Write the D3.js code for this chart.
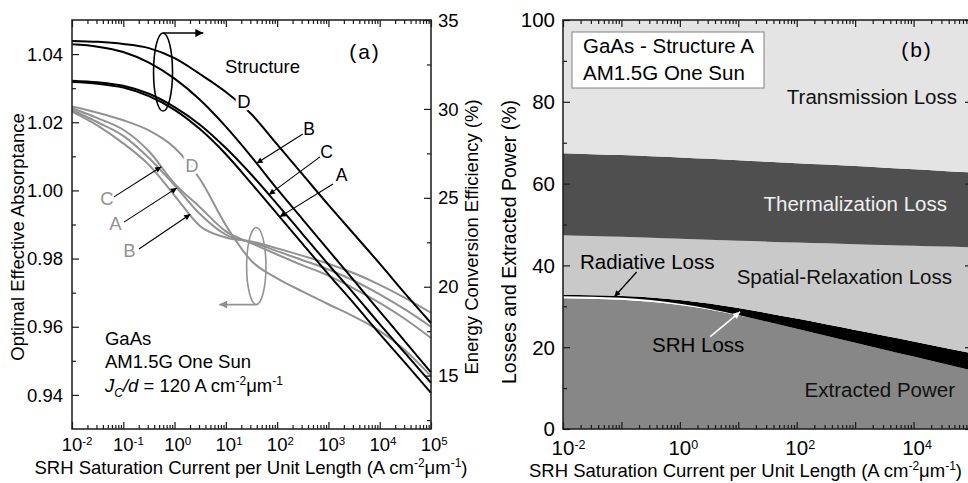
<!DOCTYPE html>
<html>
<head>
<meta charset="utf-8">
<script src="https://cdn.jsdelivr.net/npm/d3@7"></script>
<style>
  body { margin: 0; background: #fff; }
  svg { display: block; font-family: "Liberation Sans", Arial, Helvetica, sans-serif; }
</style>
</head>
<body>
<svg id="chart" width="968" height="483"></svg>
<script>
// ---- data -----------------------------------------------------------------
// SRH saturation current per unit length, log10 of A cm^-2 um^-1
const logJ = [-2, -1.5, -1, -0.5, 0, 0.5, 1, 1.5, 2, 2.5, 3, 3.5, 4, 4.5, 5];

// Panel (a), left axis: optimal effective absorptance per structure
const absA = [1.0236, 1.0200, 1.0160, 1.0095, 1.0015, 0.9930, 0.9870, 0.9848, 0.9822, 0.9795, 0.9768, 0.9735, 0.9695, 0.9650, 0.9600];
const absB = [1.0231, 1.0190, 1.0138, 1.0075, 0.9985, 0.9895, 0.9862, 0.9850, 0.9830, 0.9808, 0.9785, 0.9757, 0.9723, 0.9684, 0.9641];
const absC = [1.0241, 1.0212, 1.0178, 1.0115, 1.0020, 0.9950, 0.9880, 0.9845, 0.9812, 0.9780, 0.9750, 0.9712, 0.9670, 0.9622, 0.9567];
const absD = [1.0246, 1.0228, 1.0206, 1.0176, 1.0125, 1.0032, 0.9898, 0.9793, 0.9742, 0.9703, 0.9666, 0.9630, 0.9588, 0.9530, 0.9455];

// Panel (a), right axis: energy conversion efficiency (%) per structure
const effA = [31.51, 31.42, 31.20, 30.72, 29.95, 28.85, 27.45, 25.80, 24.10, 22.40, 20.70, 19.05, 17.35, 15.70, 14.03];
const effB = [33.63, 33.50, 33.20, 32.60, 31.70, 30.50, 29.00, 27.30, 25.50, 23.78, 22.06, 20.34, 18.62, 16.90, 15.18];
const effC = [31.59, 31.50, 31.30, 30.85, 30.10, 29.10, 27.80, 26.30, 24.65, 22.95, 21.25, 19.60, 17.90, 16.25, 14.60];
const effD = [33.82, 33.77, 33.65, 33.42, 32.85, 31.95, 30.95, 29.70, 28.00, 26.30, 24.60, 22.95, 21.30, 19.60, 17.96];

// Panel (b): power budget of structure A (% of incident power), bottom to top
const extracted    = [31.95, 31.85, 31.60, 31.10, 30.30, 29.20, 27.80, 26.20, 24.50, 22.80, 21.10, 19.40, 17.70, 16.00, 14.30];
const radiative    = [0.50, 0.50, 0.48, 0.42, 0.30, 0.18, 0.08, 0.03, 0.01, 0, 0, 0, 0, 0, 0];
const srhLoss      = [0.30, 0.35, 0.45, 0.65, 0.95, 1.30, 1.70, 2.10, 2.50, 2.80, 3.10, 3.40, 3.70, 3.95, 4.20];
const spatial      = [14.65, 14.50, 14.47, 14.58, 14.95, 15.57, 16.42, 17.47, 18.59, 19.80, 21.00, 22.20, 23.40, 24.65, 25.90];
const thermal      = [20.00, 20.00, 20.00, 19.95, 19.90, 19.80, 19.70, 19.55, 19.40, 19.25, 19.10, 18.90, 18.70, 18.50, 18.30];
const transmission = [32.60, 32.80, 33.00, 33.30, 33.60, 33.95, 34.30, 34.65, 35.00, 35.35, 35.70, 36.10, 36.50, 36.90, 37.30];

// Axis ticks
const decadeExps = [-2, -1, 0, 1, 2, 3, 4, 5];
const absTicks = [0.94, 0.96, 0.98, 1.00, 1.02, 1.04];
const absMinor = [0.95, 0.97, 0.99, 1.01, 1.03];
const effTicks = [15, 20, 25, 30, 35];
const effMinor = [12.5, 17.5, 22.5, 27.5, 32.5];
const pctTicks = [0, 20, 40, 60, 80, 100];
const pctMinor = [10, 30, 50, 70, 90];
const bLabelExps = [-2, 0, 2, 4];

// ---- helpers --------------------------------------------------------------
const svg = d3.select("#chart");
const J = e => Math.pow(10, e);
const majorVals = decadeExps.map(J);
const minorVals = [];
decadeExps.slice(0, -1).forEach(e => { for (let m = 2; m <= 9; m++) minorVals.push(m * J(e)); });

function valueAt(series, L) {
  for (let i = 0; i < logJ.length - 1; i++) {
    if (L >= logJ[i] && L <= logJ[i + 1]) {
      const t = (L - logJ[i]) / (logJ[i + 1] - logJ[i]);
      return series[i] + t * (series[i + 1] - series[i]);
    }
  }
  return series[series.length - 1];
}

function tickSet(g, gen, transform, values, size) {
  g.append("g")
    .attr("transform", transform)
    .attr("color", "#1a1a1a")
    .call(gen.tickValues(values).tickSize(size).tickSizeOuter(0).tickFormat(""))
    .call(s => s.select(".domain").remove())
    .selectAll("line").attr("stroke-width", 1.2);
}

// "10" centred on the tick, exponent raised to its right, in one text element
function decadeLabel(g, px, baseline, exp, fs, sfs, dy) {
  const t = g.append("text").attr("x", px - fs * 0.556).attr("y", baseline).attr("font-size", fs);
  t.append("tspan").text("10");
  t.append("tspan").attr("dy", dy).attr("font-size", sfs).text(exp);
}

const defs = svg.append("defs");
function marker(id, color, w, h) {
  defs.append("marker").attr("id", id)
    .attr("viewBox", "0 0 10 10").attr("refX", 10).attr("refY", 5)
    .attr("markerWidth", w).attr("markerHeight", h)
    .attr("markerUnits", "userSpaceOnUse").attr("orient", "auto")
    .append("path").attr("d", "M0,0 L10,5 L0,10 Z").attr("fill", color);
}
marker("headBlack", "#000", 9, 6);
marker("headBig", "#000", 11, 8);
marker("headGray", "#8f8f8f", 11, 8);
marker("headWhite", "#fff", 10, 7);

// ---- panel (a) ------------------------------------------------------------
const xa = d3.scaleLog().domain([1e-2, 1e5]).range([72, 431]);
const yAbs = d3.scaleLinear().domain([0.93, 1.05]).range([429, 20]);
const yEff = d3.scaleLinear().domain([12, 35]).range([429, 20]);
const ga = svg.append("g");

const grayCol = "#929292";
const absLine = d3.line().x((d, i) => xa(J(logJ[i]))).y(d => yAbs(d)).curve(d3.curveMonotoneX);
const effLine = d3.line().x((d, i) => xa(J(logJ[i]))).y(d => yEff(d)).curve(d3.curveMonotoneX);

[absA, absB, absC, absD].forEach(s =>
  ga.append("path").attr("d", absLine(s)).attr("fill", "none")
    .attr("stroke", grayCol).attr("stroke-width", 2));
[effA, effB, effC, effD].forEach(s =>
  ga.append("path").attr("d", effLine(s)).attr("fill", "none")
    .attr("stroke", "#000").attr("stroke-width", 2));

// group markers: ellipses with arrows to the relevant axis
ga.append("ellipse")
  .attr("cx", (xa(J(-0.41)) + xa(J(-0.04))) / 2).attr("cy", (yEff(34.27) + yEff(29.88)) / 2)
  .attr("rx", (xa(J(-0.04)) - xa(J(-0.41))) / 2).attr("ry", (yEff(29.88) - yEff(34.27)) / 2)
  .attr("fill", "none").attr("stroke", "#000").attr("stroke-width", 1.6);
ga.append("line")
  .attr("x1", xa(J(-0.225))).attr("y1", yEff(34.27)).attr("x2", xa(J(0.56))).attr("y2", yEff(34.27))
  .attr("stroke", "#000").attr("stroke-width", 1.6).attr("marker-end", "url(#headBig)");

ga.append("ellipse")
  .attr("cx", (xa(J(1.405)) + xa(J(1.782))) / 2).attr("cy", (yAbs(0.9891) + yAbs(0.9665)) / 2)
  .attr("rx", (xa(J(1.782)) - xa(J(1.405))) / 2).attr("ry", (yAbs(0.9665) - yAbs(0.9891)) / 2)
  .attr("fill", "none").attr("stroke", grayCol).attr("stroke-width", 1.6);
ga.append("line")
  .attr("x1", xa(J(1.594))).attr("y1", yAbs(0.9665)).attr("x2", xa(J(0.87))).attr("y2", yAbs(0.9665))
  .attr("stroke", grayCol).attr("stroke-width", 1.6).attr("marker-end", "url(#headGray)");

// structure labels with pointer arrows
const effArrows = [
  { name: "B", series: effB, tip: 1.60, tail: [2.50, 28.59], lab: [2.621, 28.53] },
  { name: "C", series: effC, tip: 1.84, tail: [2.836, 27.30], lab: [2.962, 27.24] },
  { name: "A", series: effA, tip: 2.05, tail: [3.089, 25.78], lab: [3.255, 25.95] }
];
effArrows.forEach(a => {
  ga.append("line")
    .attr("x1", xa(J(a.tail[0]))).attr("y1", yEff(a.tail[1]))
    .attr("x2", xa(J(a.tip))).attr("y2", yEff(valueAt(a.series, a.tip)))
    .attr("stroke", "#000").attr("stroke-width", 1.1).attr("marker-end", "url(#headBlack)");
  ga.append("text").attr("x", xa(J(a.lab[0]))).attr("y", yEff(a.lab[1]))
    .attr("text-anchor", "middle").attr("font-size", 17.5).text(a.name);
});

const absArrows = [
  { name: "C", series: absC, tip: -0.26, tail: [-1.181, 0.9981], lab: [-1.318, 0.9957] },
  { name: "A", series: absA, tip: 0.045, tail: [-0.986, 0.9907], lab: [-1.152, 0.9884] },
  { name: "B", series: absB, tip: 0.306, tail: [-0.694, 0.9828], lab: [-0.879, 0.9805] }
];
absArrows.forEach(a => {
  ga.append("line")
    .attr("x1", xa(J(a.tail[0]))).attr("y1", yAbs(a.tail[1]))
    .attr("x2", xa(J(a.tip))).attr("y2", yAbs(valueAt(a.series, a.tip)))
    .attr("stroke", "#000").attr("stroke-width", 1.1).attr("marker-end", "url(#headBlack)");
  ga.append("text").attr("x", xa(J(a.lab[0]))).attr("y", yAbs(a.lab[1]))
    .attr("text-anchor", "middle").attr("font-size", 18.5).attr("fill", grayCol).text(a.name);
});

// inline "D" labels sitting on their curves
ga.append("text").attr("x", xa(J(1.354))).attr("y", yEff(30.05))
  .attr("text-anchor", "middle").attr("font-size", 18.5)
  .attr("stroke", "#fff").attr("stroke-width", 6).attr("paint-order", "stroke").text("D");
ga.append("text").attr("x", xa(J(0.34))).attr("y", yAbs(1.0054))
  .attr("text-anchor", "middle").attr("font-size", 18.5).attr("fill", grayCol)
  .attr("stroke", "#fff").attr("stroke-width", 6).attr("paint-order", "stroke").text("D");

ga.append("text").attr("x", xa(J(0.983))).attr("y", yEff(32.02)).attr("font-size", 18.5).text("Structure");
ga.append("text").attr("x", xa(J(3.713))).attr("y", yEff(32.81)).attr("text-anchor", "middle")
  .attr("font-size", 21).attr("letter-spacing", 2).text("(a)");

const note = ga.append("g").attr("font-size", 18.5);
note.append("text").attr("x", xa(J(-1.357))).attr("y", yAbs(0.9546)).text("GaAs");
note.append("text").attr("x", xa(J(-1.357))).attr("y", yAbs(0.9479)).text("AM1.5G One Sun");
const jt = note.append("text").attr("x", xa(J(-1.357))).attr("y", yAbs(0.9410));
jt.append("tspan").attr("font-style", "italic").text("J");
jt.append("tspan").attr("font-style", "italic").attr("font-size", 12).attr("dy", 5).text("C");
jt.append("tspan").attr("font-style", "italic").attr("dy", -5).text("/d");
jt.append("tspan").text(" = 120 A cm");
jt.append("tspan").attr("font-size", 12).attr("dy", -7).text("-2");
jt.append("tspan").attr("dy", 7).text("\u03BCm");
jt.append("tspan").attr("font-size", 12).attr("dy", -7).text("-1");

// frame and ticks (a)
ga.append("rect").attr("x", 72).attr("y", 20).attr("width", 359).attr("height", 409)
  .attr("fill", "none").attr("stroke", "#1a1a1a").attr("stroke-width", 1.5);
tickSet(ga, d3.axisBottom(xa), "translate(0,429)", majorVals, -7);
tickSet(ga, d3.axisBottom(xa), "translate(0,429)", minorVals, -4);
tickSet(ga, d3.axisTop(xa), "translate(0,20)", majorVals, -7);
tickSet(ga, d3.axisTop(xa), "translate(0,20)", minorVals, -4);
tickSet(ga, d3.axisLeft(yAbs), "translate(72,0)", absTicks, -7);
tickSet(ga, d3.axisLeft(yAbs), "translate(72,0)", absMinor, -4);
tickSet(ga, d3.axisRight(yEff), "translate(431,0)", effTicks, -7);
tickSet(ga, d3.axisRight(yEff), "translate(431,0)", effMinor, -4);

decadeExps.forEach(e => decadeLabel(ga, xa(J(e)), 451, String(e), 18.5, 11.5, -6));
absTicks.forEach(v => ga.append("text").attr("x", 63).attr("y", yAbs(v)).attr("dy", "0.36em")
  .attr("text-anchor", "end").attr("font-size", 18.5).text(v.toFixed(2)));
effTicks.forEach(v => ga.append("text").attr("x", 438).attr("y", yEff(v)).attr("dy", "0.36em")
  .attr("font-size", 18.5).text(v));

ga.append("text").attr("transform", "translate(24,237) rotate(-90)").attr("text-anchor", "middle")
  .attr("font-size", 18.5).text("Optimal Effective Absorptance");
ga.append("text").attr("transform", "translate(478,237) rotate(-90)").attr("text-anchor", "middle")
  .attr("font-size", 18.5).text("Energy Conversion Efficiency (%)");

function xTitle(g, cx, baseline) {
  const t = g.append("text").attr("x", cx).attr("y", baseline).attr("text-anchor", "middle").attr("font-size", 18.5);
  t.append("tspan").text("SRH Saturation Current per Unit Length (A cm");
  t.append("tspan").attr("font-size", 12).attr("dy", -7).text("-2");
  t.append("tspan").attr("dy", 7).text("\u03BCm");
  t.append("tspan").attr("font-size", 12).attr("dy", -7).text("-1");
  t.append("tspan").attr("dy", 7).text(")");
}
xTitle(ga, 251, 473.5);

// ---- panel (b) ------------------------------------------------------------
const xb = d3.scaleLog().domain([1e-2, 1e5]).range([563, 972]);
const yb = d3.scaleLinear().domain([0, 100]).range([429, 20]);
const gb = svg.append("g");

defs.append("clipPath").attr("id", "plotB").append("rect")
  .attr("x", 563).attr("y", 20).attr("width", 409).attr("height", 409);

const layers = [
  { key: "extracted", vals: extracted, fill: "#878787" },
  { key: "radiative", vals: radiative, fill: "#ffffff" },
  { key: "srh", vals: srhLoss, fill: "#000000" },
  { key: "spatial", vals: spatial, fill: "#c9c9c9" },
  { key: "thermal", vals: thermal, fill: "#4f4f4f" },
  { key: "transmission", vals: transmission, fill: "#e4e4e4" }
];
const rows = logJ.map((L, i) => {
  const r = { L };
  layers.forEach(l => r[l.key] = l.vals[i]);
  return r;
});
const stacked = d3.stack().keys(layers.map(l => l.key))(rows);
const area = d3.area()
  .x(d => xb(J(d.data.L))).y0(d => yb(d[0])).y1(d => yb(d[1]))
  .curve(d3.curveMonotoneX);
const plotB = gb.append("g").attr("clip-path", "url(#plotB)");
stacked.forEach((s, i) =>
  plotB.append("path").attr("d", area(s)).attr("fill", layers[i].fill));

// annotation box
gb.append("rect").attr("x", 572).attr("y", 32).attr("width", 192).attr("height", 56)
  .attr("fill", "#fff").attr("stroke", "#808080").attr("stroke-width", 1);
gb.append("text").attr("x", 583).attr("y", 53).attr("font-size", 20.5).text("GaAs - Structure A");
gb.append("text").attr("x", 583).attr("y", 80).attr("font-size", 20.5).text("AM1.5G One Sun");
gb.append("text").attr("x", 917).attr("y", 57).attr("text-anchor", "middle")
  .attr("font-size", 21).attr("letter-spacing", 2).text("(b)");

const regionLabels = [
  { text: "Transmission Loss", x: 957, y: 104, fill: "#111" },
  { text: "Thermalization Loss", x: 947, y: 211, fill: "#f0f0f0" },
  { text: "Spatial-Relaxation Loss", x: 952, y: 284, fill: "#111" },
  { text: "Extracted Power", x: 955, y: 397, fill: "#111" }
];
regionLabels.forEach(r => gb.append("text").attr("x", r.x).attr("y", r.y)
  .attr("text-anchor", "end").attr("font-size", 20.5).attr("fill", r.fill).text(r.text));
gb.append("text").attr("x", 580).attr("y", 269).attr("font-size", 20.5).text("Radiative Loss");
gb.append("text").attr("x", 652).attr("y", 352).attr("font-size", 20.5).text("SRH Loss");

// pointers to the thin radiative and SRH bands
const radTipL = -1.12;
gb.append("line")
  .attr("x1", xb(J(-0.74))).attr("y1", yb(38.4))
  .attr("x2", xb(J(radTipL))).attr("y2", yb(valueAt(extracted, radTipL) + valueAt(radiative, radTipL) + 0.2))
  .attr("stroke", "#000").attr("stroke-width", 1.3).attr("marker-end", "url(#headBlack)");
const srhTipL = 1.03;
gb.append("line")
  .attr("x1", xb(J(0.52))).attr("y1", yb(22.6))
  .attr("x2", xb(J(srhTipL)))
  .attr("y2", yb(valueAt(extracted, srhTipL) + valueAt(radiative, srhTipL) + valueAt(srhLoss, srhTipL) * 0.5))
  .attr("stroke", "#fff").attr("stroke-width", 1.6).attr("marker-end", "url(#headWhite)");

// frame and ticks (b)
gb.append("rect").attr("x", 563).attr("y", 20).attr("width", 409).attr("height", 409)
  .attr("fill", "none").attr("stroke", "#1a1a1a").attr("stroke-width", 1.5);
tickSet(gb, d3.axisBottom(xb), "translate(0,429)", majorVals, -7);
tickSet(gb, d3.axisBottom(xb), "translate(0,429)", minorVals, -4);
tickSet(gb, d3.axisTop(xb), "translate(0,20)", majorVals, -7);
tickSet(gb, d3.axisTop(xb), "translate(0,20)", minorVals, -4);
tickSet(gb, d3.axisLeft(yb), "translate(563,0)", pctTicks, -7);
tickSet(gb, d3.axisLeft(yb), "translate(563,0)", pctMinor, -4);
tickSet(gb, d3.axisRight(yb), "translate(972,0)", pctTicks, -7);
tickSet(gb, d3.axisRight(yb), "translate(972,0)", pctMinor, -4);

bLabelExps.forEach(e => decadeLabel(gb, xb(J(e)), 455, String(e), 20.5, 12.5, -6.5));
pctTicks.forEach(v => gb.append("text").attr("x", 555).attr("y", yb(v)).attr("dy", "0.36em")
  .attr("text-anchor", "end").attr("font-size", 20.5).text(v));

gb.append("text").attr("transform", "translate(516,242) rotate(-90)").attr("text-anchor", "middle")
  .attr("font-size", 19.5).text("Losses and Extracted Power (%)");
xTitle(gb, 745.5, 477);
</script>
</body>
</html>
